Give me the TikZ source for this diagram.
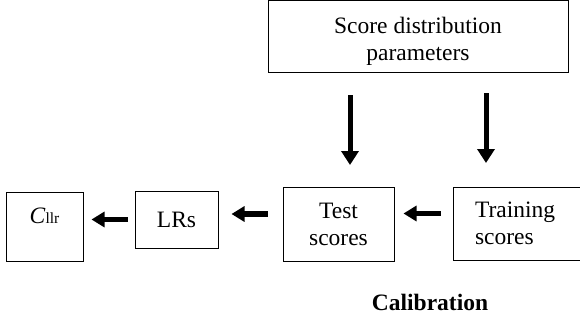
\documentclass[tikz,border=0pt]{standalone}
\usepackage{fontspec}
\setmainfont{Liberation Serif}
\usetikzlibrary{arrows.meta}
\begin{document}
\begin{tikzpicture}[x=1pt,y=1pt,
  box/.style={draw,line width=1pt,inner sep=0pt,align=center,
    font=\fontsize{23.5}{27}\selectfont},
  txt/.style={inner sep=0pt,align=center,font=\fontsize{23.5}{27}\selectfont},
  varr/.style={line width=5pt,-{Triangle[length=14pt,width=17pt]}},
  harr/.style={line width=5.5pt,-{Triangle[length=13pt,width=15pt]}}]
\useasboundingbox (0,0) rectangle (580,322);
\node[box,minimum width=300pt,minimum height=71pt] (top) at (418,285.5) {};
\node[txt] (toptxt) at ([yshift=-5pt]top.center) {Score distribution\\parameters};
\node[box,minimum width=77pt,minimum height=69pt] (cllr) at (44.5,95.5) {\raisebox{3.5pt}[0pt][0pt]{\textit{C}{\fontsize{15.5}{18}\selectfont llr}}};
\node[box,minimum width=83pt,minimum height=57pt] (lrs) at (176.5,102.5) {LRs};
\node[box,minimum width=111pt,minimum height=74pt] (test) at (338.5,98) {Test\\scores};
\node[box,align=left,inner xsep=22pt,text width=103pt,minimum height=73pt] (train) at (526.5,98.5) {Training\\scores};
\node[font=\fontsize{23.5}{27.5}\selectfont\bfseries] (cal) at (430,20) {Calibration};
\coordinate (v1s) at (350,227);
\coordinate (v1e) at (350,157);
\coordinate (v2s) at (486,229);
\coordinate (v2e) at (486,159);
\draw[varr] (v1s) -- (v1e);
\draw[varr] (v2s) -- (v2e);
\draw[harr] ([xshift=-7pt]lrs.west) -- ([xshift=8pt]lrs.west -| cllr.east);
\draw[harr] ([xshift=-15pt,yshift=10pt]test.west) -- ([xshift=13pt,yshift=10pt]test.west -| lrs.east);
\draw[harr] ([xshift=-12pt,yshift=10pt]train.west) -- ([xshift=9pt,yshift=10pt]train.west -| test.east);
\end{tikzpicture}
\end{document}
